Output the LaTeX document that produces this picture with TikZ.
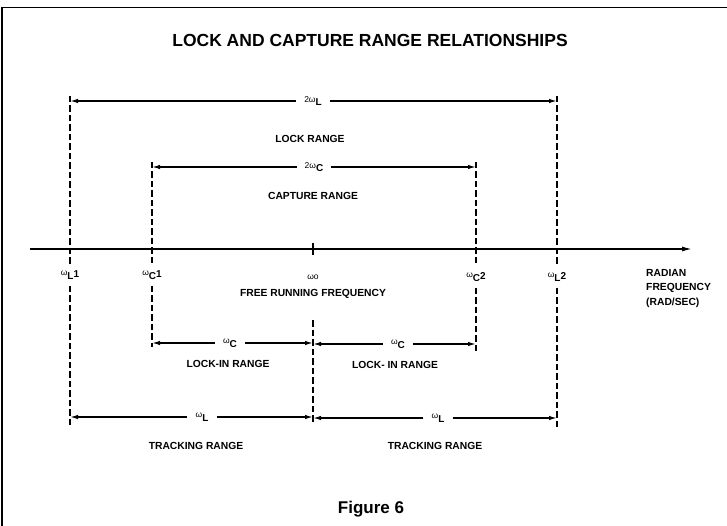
\documentclass[tikz,border=0pt]{standalone}
\usepackage{fontspec}
\setmainfont{Liberation Sans}
\usepackage{tikz}
\usetikzlibrary{arrows.meta}

\newcommand{\wsub}[3][]{{\mdseries\fontsize{8.5}{8.5}\selectfont\raisebox{0.4ex}{#1ω}}\raisebox{-0.35ex}{#2}#3}

\begin{document}
\begin{tikzpicture}[x=1pt, y=-1pt,
    lbl/.style={font=\bfseries\fontsize{10.3}{11}\selectfont, inner sep=1pt},
    wlbl/.style={font=\bfseries\fontsize{10}{11}\selectfont, inner xsep=1pt, inner ysep=6pt},
    dlbl/.style={font=\bfseries\fontsize{10}{11}\selectfont, inner xsep=8pt, inner ysep=1pt},
    dim/.style={line width=1.4pt, -{Latex[length=8pt,width=4.5pt]}},
    dline/.style={line width=2.1pt, dash pattern=on 6.5pt off 3pt},
    axis/.style={line width=1.4pt, -{Latex[length=10pt,width=5pt]}}
]
\useasboundingbox (0,0) rectangle (727,526);
\draw[line width=1.5pt] (2,526) -- (2,7.5) -- (727,7.5);

\node[font=\bfseries\fontsize{17.5}{20}\selectfont] (ttl) at (370,40) {LOCK AND CAPTURE RANGE RELATIONSHIPS};

% frequency axis
\coordinate (axL) at (30,249);
\coordinate (axR) at (692,249);
\draw[axis] (axL) -- (axR);
\draw[line width=2pt] (313,243) -- (313,255);

% labels on the axis
\node[wlbl] (wl1) at (70,275) {\wsub{L}{1}};
\node[wlbl] (wc1) at (152,275) {\wsub{C}{1}};
\node[wlbl] (wo) at (313,277) {{\mdseries\fontsize{8.5}{8.5}\selectfont ωo}};
\node[wlbl] (wc2) at (476,277) {\wsub{C}{2}};
\node[wlbl] (wl2) at (557,277) {\wsub{L}{2}};
\node[lbl] (free) at (313,294) {FREE RUNNING FREQUENCY};
\node[lbl, anchor=north west, align=left, font=\bfseries\fontsize{10.3}{14.5}\selectfont] (radian) at (645,268) {RADIAN\\FREQUENCY\\(RAD/SEC)};

% extension lines
\coordinate (wl1top) at (70,96);
\coordinate (wl1bot) at (70,425);
\coordinate (wc1top) at (152,162);
\coordinate (wc1bot) at (152,347);
\coordinate (wotop) at (313,320);
\coordinate (wobot) at (313,423);
\coordinate (wc2top) at (476,162);
\coordinate (wc2bot) at (476,354);
\coordinate (wl2top) at (557,96);
\coordinate (wl2bot) at (557,428);
\draw[dline] (wl1top) -- (wl1.north);
\draw[dline] (wl1.south) -- (wl1bot);
\draw[dline] (wc1top) -- (wc1.north);
\draw[dline] (wc1.south) -- (wc1bot);
\draw[dline] (wotop) -- (wobot);
\draw[dline] (wc2top) -- (wc2.north);
\draw[dline] (wc2.south) -- (wc2bot);
\draw[dline] (wl2top) -- (wl2.north);
\draw[dline] (wl2.south) -- (wl2bot);

% lock range
\node[dlbl] (d2wl) at (313,101) {\wsub[2]{L}{}};
\draw[dim] (d2wl.west) -- (70,101);
\draw[dim] (d2wl.east) -- (557,101);
\node[lbl] (lock) at (310,139) {LOCK RANGE};

% capture range
\node[dlbl] (d2wc) at (314,167) {\wsub[2]{C}{}};
\draw[dim] (d2wc.west) -- (152,167);
\draw[dim] (d2wc.east) -- (476,167);
\node[lbl] (capt) at (313,196) {CAPTURE RANGE};

% lock-in ranges
\node[dlbl] (dwc1) at (230,343) {\wsub{C}{}};
\draw[dim] (dwc1.west) -- (152,343);
\draw[dim] (dwc1.east) -- (313,343);
\node[lbl] (lockin1) at (228,364) {LOCK-IN RANGE};
\node[dlbl] (dwc2) at (398,344) {\wsub{C}{}};
\draw[dim] (dwc2.west) -- (313,344);
\draw[dim] (dwc2.east) -- (476,344);
\node[lbl] (lockin2) at (395,365) {LOCK- IN RANGE};

% tracking ranges
\node[dlbl] (dwl1) at (202,417) {\wsub{L}{}};
\draw[dim] (dwl1.west) -- (70,417);
\draw[dim] (dwl1.east) -- (313,417);
\node[lbl] (track1) at (196,446) {TRACKING RANGE};
\node[dlbl] (dwl2) at (438,418) {\wsub{L}{}};
\draw[dim] (dwl2.west) -- (313,418);
\draw[dim] (dwl2.east) -- (557,418);
\node[lbl] (track2) at (435,446) {TRACKING RANGE};

\node[font=\bfseries\fontsize{17}{20}\selectfont] (fig) at (371,509) {Figure 6};
\end{tikzpicture}
\end{document}
